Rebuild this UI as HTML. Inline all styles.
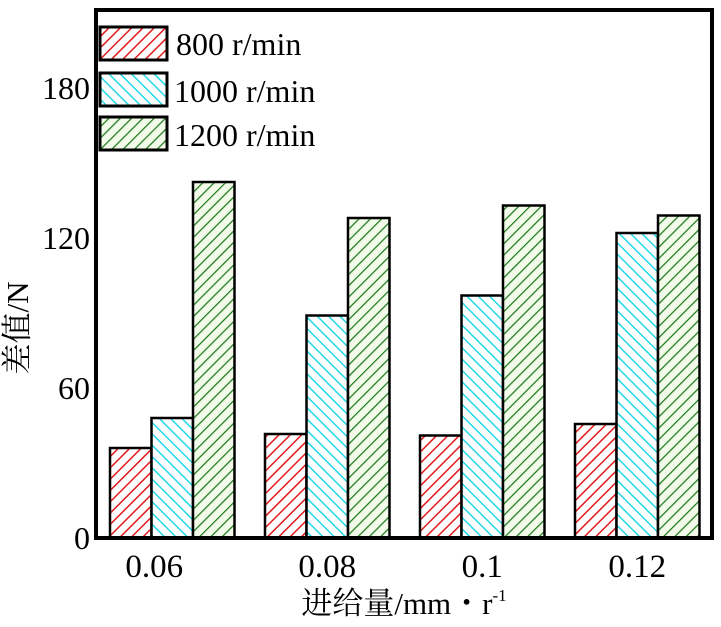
<!DOCTYPE html>
<html><head><meta charset="utf-8"><style>
body{margin:0;background:#fff}
svg text{font-family:"Liberation Serif","Noto Serif CJK SC",serif;fill:#000}
</style></head><body>
<svg width="721" height="622" viewBox="0 0 721 622">
<defs>
<pattern id="pRed" width="8" height="8" patternUnits="userSpaceOnUse" patternTransform="rotate(45)"><rect width="8" height="8" fill="#fff"/><line x1="0" y1="0" x2="0" y2="8" stroke="#e31a1c" stroke-width="3"/></pattern>
<pattern id="pCyan" width="8" height="8" patternUnits="userSpaceOnUse" patternTransform="rotate(-45)"><rect width="8" height="8" fill="#fff"/><line x1="0" y1="0" x2="0" y2="8" stroke="#22d8e8" stroke-width="3"/></pattern>
<pattern id="pGreen" width="8" height="8" patternUnits="userSpaceOnUse" patternTransform="rotate(45)"><rect width="8" height="8" fill="#f2fbea"/><line x1="0" y1="0" x2="0" y2="8" stroke="#1f7a1f" stroke-width="2.5"/></pattern>
</defs>
<g id="bars"></g>
<rect x="96" y="10" width="616" height="528" fill="none" stroke="#000" stroke-width="4"/>
<g id="yticks"></g><g id="xticks"></g>
<text x="28" y="328" font-size="31" text-anchor="middle" transform="rotate(-90 28 328)">差值/N</text>
<text x="404" y="614" font-size="31" text-anchor="middle">进给量/mm・r<tspan font-size="17" dy="-13">-1</tspan></text>
<g>
<g><rect x="100" y="27" width="67" height="33" fill="url(#pRed)" stroke="#000" stroke-width="3"/><text x="176" y="55" font-size="32">800 r/min</text></g>
<g><rect x="100" y="73" width="67" height="33" fill="url(#pCyan)" stroke="#000" stroke-width="3"/><text x="174" y="102" font-size="32">1000 r/min</text></g>
<g><rect x="100" y="117" width="67" height="33" fill="url(#pGreen)" stroke="#000" stroke-width="3"/><text x="174" y="146" font-size="32">1200 r/min</text></g>
</g>
</svg>
<script>
const categories=["0.06","0.08","0.1","0.12"];
const s800=[36,41.6,41,45.6];
const s1000=[48,89,97,122];
const s1200=[142.4,128,133,129];
const yTicks=[0,60,120,180];
const fills=["url(#pRed)","url(#pCyan)","url(#pGreen)"];
const names=["800","1000","1200"];
const y=v=>538-v*2.5;
const gx=i=>110+i*155;
const bw=41.5;
const ns="http://www.w3.org/2000/svg";
const bars=document.getElementById('bars');
[s800,s1000,s1200].forEach((s,k)=>s.forEach((v,i)=>{
 const r=document.createElementNS(ns,'rect');
 r.setAttribute('x',gx(i)+k*bw);r.setAttribute('y',y(v));
 r.setAttribute('width',bw);r.setAttribute('height',538-y(v));
 r.setAttribute('fill',fills[k]);r.setAttribute('stroke','#000');r.setAttribute('stroke-width','2.5');
 
 
 bars.appendChild(r);
}));
const yt=document.getElementById('yticks');
yTicks.forEach(v=>{
 const t=document.createElementNS(ns,'text');
 t.setAttribute('x',90);t.setAttribute('y',y(v)+11);t.setAttribute('font-size','32');t.setAttribute('text-anchor','end');
 t.textContent=v;
 
 
 yt.appendChild(t);
});
const xt=document.getElementById('xticks');
categories.forEach((c,i)=>{
 const t=document.createElementNS(ns,'text');
 t.setAttribute('x',gx(i)+1.5*bw-(i===0?18:0));t.setAttribute('y',577);t.setAttribute('font-size','33');t.setAttribute('text-anchor','middle');
 t.textContent=c;
 
 
 xt.appendChild(t);
});
</script>
</body></html>
